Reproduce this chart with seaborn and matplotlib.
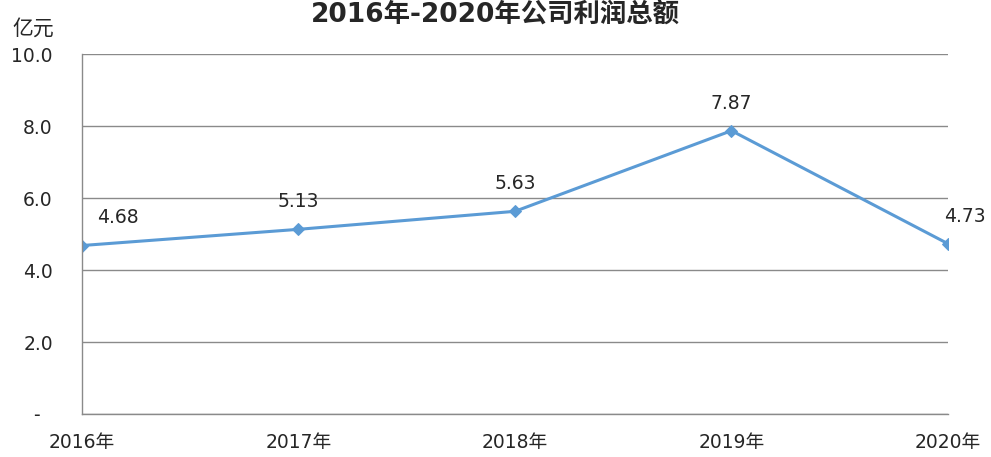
import numpy as np
import pandas as pd
import seaborn as sns
import matplotlib.pyplot as plt

years = ["2016年", "2017年", "2018年", "2019年", "2020年"]
profit = [4.68, 5.13, 5.63, 7.87, 4.73]
yticks = [0, 2, 4, 6, 8, 10]
ytick_labels = ["-  ", "2.0", "4.0", "6.0", "8.0", "10.0"]

df = pd.DataFrame({"year": years, "profit": profit})

sns.set_style("white")
plt.rcParams['font.family'] = ['DejaVu Sans', 'Noto Sans CJK SC']

fig = plt.figure(figsize=(9.91, 4.57), dpi=100)
ax = fig.add_axes([0.0827, 0.0941, 0.8739, 0.7877])

color = "#5B9BD5"
sns.lineplot(data=df, x="year", y="profit", ax=ax, color=color, linewidth=2.2,
             marker="D", markersize=6, markeredgecolor=color, sort=False)

txt = "#262626"
ax.set_xlim(0, len(years) - 1)
ax.set_ylim(0, 10)
ax.set_yticks(yticks)
ax.set_yticklabels(ytick_labels, fontsize=13.5, color=txt)
ax.tick_params(axis="x", labelsize=13.5, colors=txt, pad=14, length=0)
ax.tick_params(axis="y", pad=21, length=0)
ax.set_xlabel("")
ax.set_ylabel("")
ax.grid(axis="y", color="#8a8a8a", linewidth=1)
for s in ["right", "top"]:
    ax.spines[s].set_visible(False)
for s in ["left", "bottom"]:
    ax.spines[s].set_color("#8a8a8a")
    ax.spines[s].set_linewidth(1)

# data labels
offsets = [(26, 13), (0, 13), (0, 13), (0, 13), (12, 13)]
for i, v in enumerate(profit):
    ax.annotate(f"{v:.2f}", (i, v), xytext=offsets[i], textcoords="offset points",
                ha="center", va="bottom", fontsize=13.5, color=txt)

fig.text(0.034, 0.937, "亿元", fontsize=15, ha="center", va="center", color=txt,
         family=['Noto Sans CJK SC'])
fig.text(0.5, 0.997, "2016年-2020年公司利润总额", fontsize=19, fontweight="bold",
         ha="center", va="top")

fig.savefig("out.png", dpi=100)
